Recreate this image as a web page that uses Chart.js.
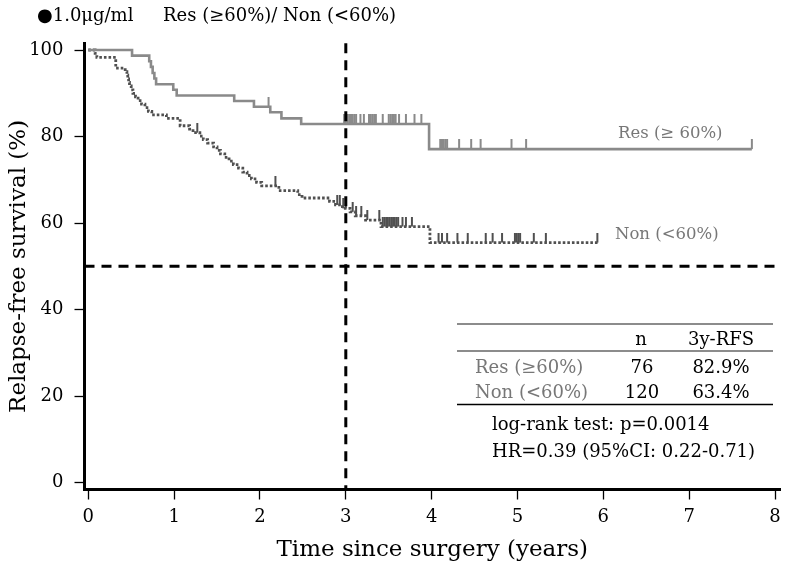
<!DOCTYPE html>
<html><head><meta charset="utf-8">
<script src="https://cdn.jsdelivr.net/npm/chart.js@4.4.0/dist/chart.umd.min.js"></script>
<style>html,body{margin:0;padding:0;background:#fff}</style>
</head><body>
<canvas id="c" width="786" height="570"></canvas>
<script>
// ---- data ----
const resTimes = [0, 0.51, 0.71, 0.73, 0.75, 0.77, 0.79, 0.99, 1.03, 1.70, 1.93, 2.12, 2.25, 2.48, 3.97, 7.73];
const resSurv  = [100, 98.7, 97.4, 96.1, 94.7, 93.4, 92.1, 90.8, 89.5, 88.2, 86.9, 85.6, 84.2, 82.9, 77.1, 77.1];

const nonTimes = [0, 0.08, 0.10, 0.32, 0.43, 0.45, 0.46, 0.47, 0.48, 0.50, 0.52, 0.55, 0.58, 0.62, 0.66, 0.70, 0.74,
  0.91, 1.07, 1.18, 1.22, 1.30, 1.34, 1.39, 1.46, 1.50, 1.54, 1.59, 1.64, 1.69, 1.75, 1.80, 1.85, 1.90, 1.96, 2.02,
  2.22, 2.44, 2.49, 2.81, 2.88, 2.96, 3.05, 3.11, 3.23, 3.41, 3.98, 5.95];
const nonSurv  = [100, 99.2, 98.3, 95.8, 95.0, 94.2, 93.3, 92.5, 91.7, 90.8, 90.0, 89.2, 88.3, 87.5, 86.7, 85.8, 85.0,
  84.2, 82.5, 81.7, 80.9, 80.1, 79.3, 78.5, 77.6, 76.8, 76.0, 75.2, 74.3, 73.5, 72.7, 71.8, 71.0, 70.2, 69.4, 68.6,
  67.5, 66.6, 65.8, 65.0, 64.2, 63.4, 62.6, 61.7, 60.7, 59.2, 55.5, 55.5];

const resCensor = [2.10, 2.98, 3.00, 3.02, 3.04, 3.06, 3.08, 3.10, 3.12, 3.17, 3.21, 3.27, 3.29, 3.31, 3.33, 3.35,
  3.43, 3.50, 3.52, 3.54, 3.56, 3.58, 3.62, 3.70, 3.80, 3.88, 4.10, 4.12, 4.14, 4.16, 4.18, 4.32, 4.46, 4.57, 4.93, 5.10, 7.73];
const nonCensor = [1.27, 2.18, 2.90, 2.93, 2.97, 3.00, 3.08, 3.12, 3.18, 3.25, 3.39, 3.43, 3.45, 3.47, 3.49, 3.51, 3.53,
  3.55, 3.57, 3.59, 3.61, 3.66, 3.70, 3.77, 4.08, 4.12, 4.18, 4.30, 4.42, 4.63, 4.71, 4.82, 4.97, 4.99, 5.01, 5.03, 5.19, 5.33, 5.93];

const xTicks = [0, 1, 2, 3, 4, 5, 6, 7, 8];
const yTicks = [0, 20, 40, 60, 80, 100];
const landmarkYear = 3;
const halfLine = 50;

const tableHeader = ['', 'n', '3y-RFS'];
const tableRows = [['Res (≥60%)', '76', '82.9%'], ['Non (<60%)', '120', '63.4%']];
const statLines = ['log-rank test: p=0.0014', 'HR=0.39 (95%CI: 0.22-0.71)'];
const topTitleA = '●1.0μg/ml';
const topTitleB = 'Res (≥60%)/ Non (<60%)';
const resLabel = 'Res (≥ 60%)';
const nonLabel = 'Non (<60%)';

// ---- helpers ----
const FONT = "'DejaVu Serif', serif";
const RES_COLOR = '#8a8a8a';
const NON_COLOR = '#505050';

function survAt(times, surv, t) {
  let v = surv[0];
  for (let i = 0; i < times.length; i++) if (times[i] <= t) v = surv[i];
  return v;
}
function tickImg(color, w, h) {
  const c = document.createElement('canvas');
  c.width = w + 2; c.height = h * 2;
  const g = c.getContext('2d');
  g.fillStyle = color; g.fillRect(1, 0, w, h);
  return c;
}

const annot = {
  id: 'annot',
  afterDatasetsDraw(chart) {
    const { ctx, chartArea: a, scales: { x, y } } = chart;
    ctx.save();
    ctx.strokeStyle = '#000'; ctx.lineWidth = 3; ctx.setLineDash([10, 7]);
    const xp = x.getPixelForValue(landmarkYear);
    ctx.beginPath(); ctx.moveTo(xp, a.top); ctx.lineTo(xp, a.bottom); ctx.stroke();
    const yp = y.getPixelForValue(halfLine);
    ctx.beginPath(); ctx.moveTo(a.left, yp); ctx.lineTo(a.right, yp); ctx.stroke();
    ctx.restore();
  },
  afterDraw(chart) {
    const ctx = chart.ctx;
    ctx.save();
    ctx.textBaseline = 'alphabetic';
    // top title
    ctx.fillStyle = '#000'; ctx.font = '18px ' + FONT; ctx.textAlign = 'left';
    ctx.fillText(topTitleA, 37, 21);
    ctx.fillText(topTitleB, 163, 21);
    // curve labels
    ctx.fillStyle = '#777'; ctx.font = '16.5px ' + FONT;
    ctx.fillText(resLabel, 618, 138);
    ctx.fillText(nonLabel, 615, 239);
    // table lines
    ctx.lineWidth = 1.3;
    ctx.strokeStyle = '#666';
    ctx.beginPath(); ctx.moveTo(457, 324); ctx.lineTo(773, 324); ctx.stroke();
    ctx.beginPath(); ctx.moveTo(457, 351); ctx.lineTo(773, 351); ctx.stroke();
    ctx.strokeStyle = '#000'; ctx.lineWidth = 1.6;
    ctx.beginPath(); ctx.moveTo(457, 404.5); ctx.lineTo(773, 404.5); ctx.stroke();
    // table text
    ctx.font = '18px ' + FONT;
    ctx.fillStyle = '#000'; ctx.textAlign = 'center';
    ctx.fillText(tableHeader[1], 641, 345);
    ctx.fillText(tableHeader[2], 721, 345);
    const rowY = [373, 398];
    tableRows.forEach((r, i) => {
      ctx.textAlign = 'left'; ctx.fillStyle = '#777';
      ctx.fillText(r[0], 475, rowY[i]);
      ctx.textAlign = 'center'; ctx.fillStyle = '#000';
      ctx.fillText(r[1], 642, rowY[i]);
      ctx.fillText(r[2], 721, rowY[i]);
    });
    ctx.textAlign = 'left';
    ctx.fillText(statLines[0], 492, 430);
    ctx.fillText(statLines[1], 492, 456.5);
    ctx.restore();
  }
};

new Chart(document.getElementById('c'), {
  type: 'line',
  data: {
    datasets: [
      { label: 'Res (≥60%)', data: resTimes.map((t, i) => ({ x: t, y: resSurv[i] })), stepped: true,
        borderColor: RES_COLOR, borderWidth: 2.6, pointRadius: 0, fill: false, order: 3 },
      { label: 'Non (<60%)', data: nonTimes.map((t, i) => ({ x: t, y: nonSurv[i] })), stepped: true,
        borderColor: NON_COLOR, borderWidth: 2.8, borderDash: [2.6, 2], pointRadius: 0, fill: false, order: 4 },
      { label: 'Res censored', data: resCensor.map(t => ({ x: t, y: survAt(resTimes, resSurv, t) })), showLine: false,
        pointStyle: tickImg(RES_COLOR, 2, 10), pointRadius: 5, order: 1 },
      { label: 'Non censored', data: nonCensor.map(t => ({ x: t, y: survAt(nonTimes, nonSurv, t) })), showLine: false,
        pointStyle: tickImg(NON_COLOR, 2, 10), pointRadius: 5, order: 2 }
    ]
  },
  options: {
    responsive: false,
    animation: false,
    layout: { padding: { top: 43.3, right: 4.3, left: 0, bottom: 0 } },
    plugins: { legend: { display: false }, tooltip: { enabled: false }, title: { display: false } },
    scales: {
      x: {
        type: 'linear', min: -0.044, max: 8.058,
        afterBuildTicks: s => { s.ticks = xTicks.map(v => ({ value: v })); },
        afterFit: s => { s.height = 80.5; s.paddingLeft = 0; s.paddingRight = 0; },
        grid: { drawOnChartArea: false, drawTicks: true, tickLength: 10, tickWidth: 1.3, tickColor: '#000' },
        border: { display: true, color: '#000', width: 3 },
        ticks: { color: '#000', font: { family: FONT, size: 18 }, padding: 7, maxRotation: 0, autoSkip: false },
        title: { display: true, text: 'Time since surgery (years)', color: '#000', font: { family: FONT, size: 23 }, padding: { top: 0, bottom: 6 } }
      },
      y: {
        type: 'linear', min: -1.57, max: 101.55,
        afterBuildTicks: s => { s.ticks = yTicks.map(v => ({ value: v })); },
        afterFit: s => { s.width = 84.5; s.paddingTop = 0; s.paddingBottom = 0; },
        grid: { drawOnChartArea: false, drawTicks: true, tickLength: 10, tickWidth: 1.3, tickColor: '#000' },
        border: { display: true, color: '#000', width: 3 },
        ticks: { color: '#000', font: { family: FONT, size: 18 }, padding: 11, autoSkip: false },
        title: { display: true, text: 'Relapse-free survival (%)', color: '#000', font: { family: FONT, size: 23 }, padding: { top: 5, bottom: 0 } }
      }
    }
  },
  plugins: [annot]
});
</script>
</body></html>
